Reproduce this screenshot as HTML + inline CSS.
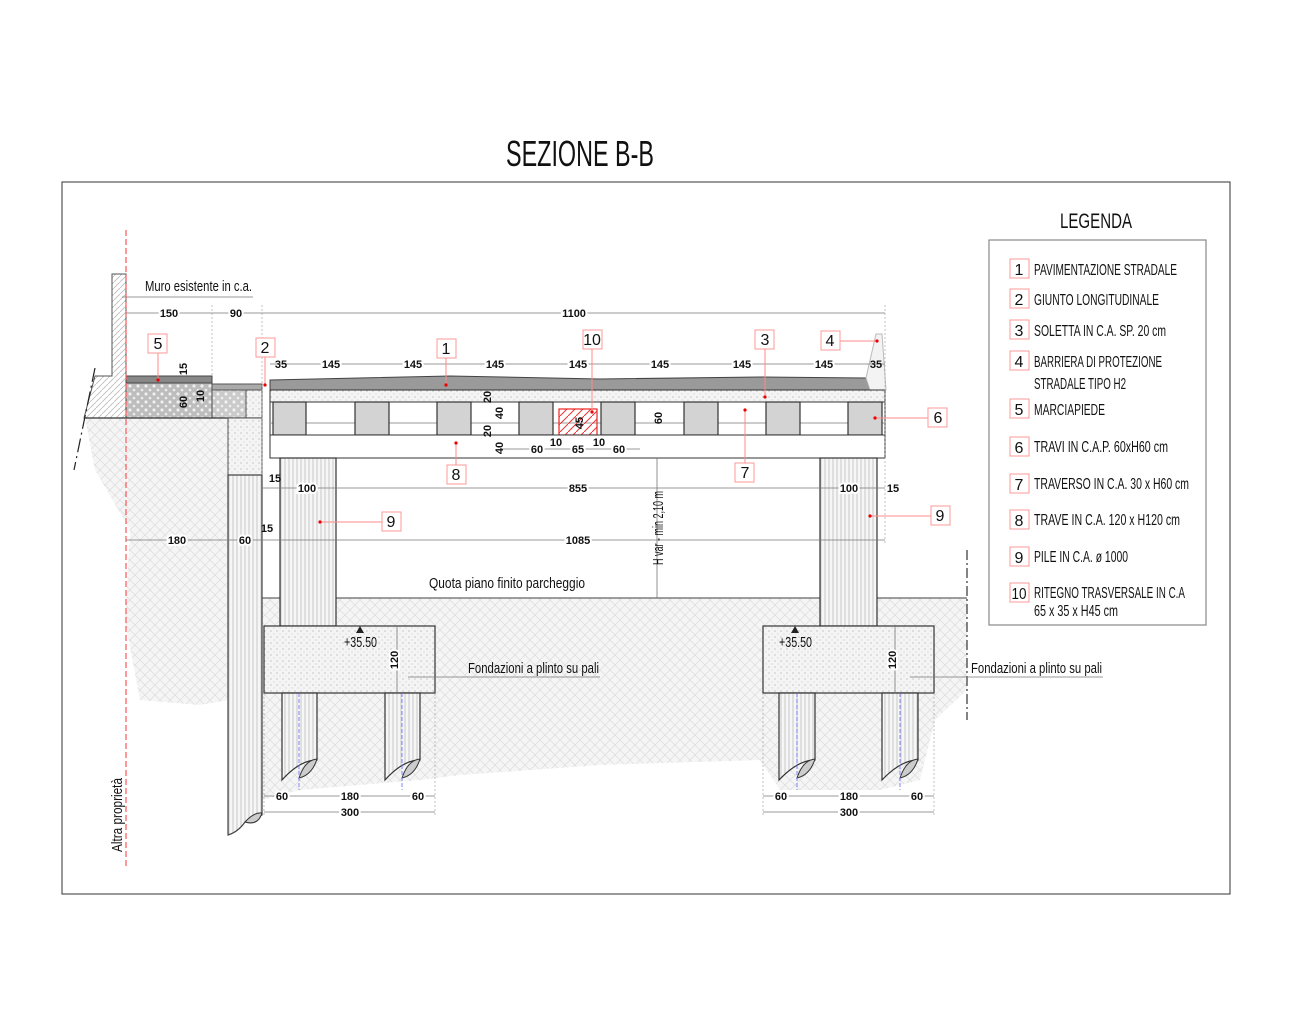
<!DOCTYPE html>
<html><head><meta charset="utf-8"><style>
html,body{margin:0;padding:0;background:#fff;}
svg{display:block;}
text{font-family:"Liberation Sans Narrow","Liberation Sans",sans-serif;fill:#111;}
.d{font-size:11px;font-weight:bold;}
.lg{font-size:16px;}
</style></head><body>
<svg width="1290" height="1024" viewBox="0 0 1290 1024" xmlns="http://www.w3.org/2000/svg">
<defs>
<pattern id="gr" width="10" height="10" patternUnits="userSpaceOnUse">
<rect width="10" height="10" fill="#f5f5f5"/>
<path d="M0 0L10 10M10 0L0 10" stroke="#dcdcdc" stroke-width="0.7"/>
</pattern>
<pattern id="dot" width="6" height="6" patternUnits="userSpaceOnUse">
<rect width="6" height="6" fill="#f4f4f4"/>
<circle cx="1" cy="1" r="0.6" fill="#aaa"/><circle cx="4" cy="4" r="0.5" fill="#bbb"/>
</pattern>
<pattern id="cob" width="8" height="8" patternUnits="userSpaceOnUse">
<rect width="8" height="8" fill="#bdbdbd"/>
<circle cx="2" cy="2" r="1.6" fill="#eee"/><circle cx="6" cy="6" r="1.3" fill="#eee"/>
</pattern>
<pattern id="vl" width="4" height="4" patternUnits="userSpaceOnUse">
<rect width="4" height="4" fill="#f6f6f6"/><path d="M1 0V4" stroke="#bdbdbd" stroke-width="0.8"/>
</pattern>
<pattern id="hat" width="6" height="6" patternUnits="userSpaceOnUse">
<rect width="6" height="6" fill="#fff"/><path d="M0 6L6 0" stroke="#bbb" stroke-width="0.8"/>
</pattern>
<pattern id="red" width="8" height="8" patternUnits="userSpaceOnUse">
<path d="M0 8L8 0" stroke="#e33" stroke-width="1"/>
</pattern>
</defs>

<text x="580" y="166" font-size="36" text-anchor="middle" textLength="148" lengthAdjust="spacingAndGlyphs">SEZIONE B-B</text>
<rect x="62" y="182" width="1168" height="712" fill="none" stroke="#333" stroke-width="1"/>

<path d="M85 418 L228 418 L228 700 L200 705 L140 700 L125 620 L130 530 L95 470 Z" fill="url(#gr)"/>
<path d="M262 598 L967 598 L967 690 L935 720 L920 780 L880 790 L820 790 L780 790 L760 760 L600 765 L460 775 L420 780 L300 790 L262 800 Z" fill="url(#gr)"/>
<line x1="262" y1="598" x2="967" y2="598" stroke="#666" stroke-width="1.2"/>

<path d="M112 274 L126 274 L126 418 L84 418 L95 376 L112 376 Z" fill="url(#hat)" stroke="#555"/>
<line x1="95" y1="368" x2="74" y2="470" stroke="#222" stroke-width="1.2" stroke-dasharray="14 4 2 4"/>
<rect x="126" y="383" width="86" height="35" fill="url(#cob)" stroke="#444"/>
<rect x="126" y="376" width="86" height="7" fill="#888" stroke="#444"/>
<rect x="212" y="390" width="34" height="28" fill="url(#cob)" opacity="0.8" stroke="#555"/>
<rect x="212" y="384" width="50" height="6" fill="#aaa" stroke="#555"/>
<rect x="246" y="390" width="16" height="28" fill="url(#dot)" stroke="#555"/>
<line x1="84" y1="418" x2="262" y2="418" stroke="#333" stroke-width="1.2"/>
<rect x="228" y="418" width="34" height="57" fill="url(#dot)" stroke="#555"/>
<path d="M228 475 L262 475 L262 815 Q252 820 245 822 Q238 832 228 835 Z" fill="url(#vl)" stroke="#444" stroke-width="1.2"/>
<path d="M245 822 Q254 812 262 813 Q258 826 245 822Z" fill="#ccc" stroke="#333"/>

<line x1="126" y1="230" x2="126" y2="866" stroke="#f55" stroke-width="1.2" stroke-dasharray="6 3"/>
<text transform="translate(122,852) rotate(-90)" font-size="15" textLength="74" lengthAdjust="spacingAndGlyphs">Altra proprietà</text>

<path d="M270 390 L270 380 L450 376 L600 379 L760 377 L866 378 L870 390 Z" fill="#9a9a9a" stroke="#444"/>
<path d="M870 390 L866 378 L876 334 L882 334 L886 390 Z" fill="#f3f3f3" stroke="#bbb"/>
<rect x="270" y="390" width="615" height="12" fill="url(#dot)" stroke="#333"/>
<rect x="270" y="402" width="615" height="33" fill="#fff" stroke="#333"/>
<line x1="270" y1="423" x2="885" y2="423" stroke="#999"/>
<g fill="#d3d3d3" stroke="#333" stroke-width="1.2">
<rect x="273" y="402" width="33" height="33"/><rect x="355" y="402" width="34" height="33"/>
<rect x="437" y="402" width="34" height="33"/><rect x="519" y="402" width="34" height="33"/>
<rect x="601" y="402" width="34" height="33"/><rect x="684" y="402" width="34" height="33"/>
<rect x="766" y="402" width="34" height="33"/><rect x="848" y="402" width="34" height="33"/>
</g>
<rect x="559" y="409" width="38" height="26" fill="url(#red)" stroke="#e22" stroke-width="1.2"/>
<rect x="270" y="435" width="615" height="23" fill="#fff" stroke="#333"/>

<rect x="280" y="458" width="56" height="168" fill="url(#vl)" stroke="#333" stroke-width="1.2"/>
<rect x="820" y="458" width="57" height="168" fill="url(#vl)" stroke="#333" stroke-width="1.2"/>

<rect x="264" y="626" width="171" height="67" fill="url(#dot)" stroke="#333" stroke-width="1.2"/>
<rect x="763" y="626" width="171" height="67" fill="url(#dot)" stroke="#333" stroke-width="1.2"/>
<g stroke="#333" stroke-width="1.2" fill="url(#vl)">
<path d="M282 693 L317 693 L317 760 Q300 760 282 780 Z"/>
<path d="M385 693 L420 693 L420 760 Q403 760 385 780 Z"/>
<path d="M779 693 L815 693 L815 760 Q798 760 779 780 Z"/>
<path d="M882 693 L918 693 L918 760 Q901 760 882 780 Z"/>
</g>
<g fill="#ccc" stroke="#333">
<path d="M299 778 Q305 760 317 759 Q312 775 299 778Z"/><path d="M402 778 Q408 760 420 759 Q415 775 402 778Z"/>
<path d="M797 778 Q803 760 815 759 Q810 775 797 778Z"/><path d="M900 778 Q906 760 918 759 Q913 775 900 778Z"/>
</g>
<g stroke="#66f" stroke-dasharray="4 2" stroke-width="0.8">
<line x1="299" y1="693" x2="299" y2="790"/><line x1="402" y1="693" x2="402" y2="790"/>
<line x1="797" y1="693" x2="797" y2="790"/><line x1="900" y1="693" x2="900" y2="790"/>
</g>
<line x1="967" y1="550" x2="967" y2="720" stroke="#333" stroke-width="1.2" stroke-dasharray="10 3 2 3"/>

<g stroke="#777" stroke-width="0.8" fill="none">
<line x1="126" y1="313" x2="885" y2="313"/>
<line x1="270" y1="364" x2="885" y2="364"/>
<line x1="262" y1="488" x2="885" y2="488"/>
<line x1="126" y1="540" x2="885" y2="540"/>
<line x1="264" y1="796" x2="435" y2="796"/><line x1="264" y1="812" x2="435" y2="812"/>
<line x1="763" y1="796" x2="934" y2="796"/><line x1="763" y1="812" x2="934" y2="812"/>
<line x1="657" y1="458" x2="657" y2="598"/>
<line x1="397" y1="626" x2="397" y2="693"/><line x1="895" y1="626" x2="895" y2="693"/>
<line x1="122" y1="297" x2="253" y2="297"/>
<line x1="408" y1="677" x2="600" y2="677"/><line x1="910" y1="677" x2="1103" y2="677"/>
<line x1="500" y1="449" x2="640" y2="449"/>
</g>
<g stroke="#999" stroke-width="0.6" stroke-dasharray="2 2">
<line x1="262" y1="305" x2="262" y2="475"/><line x1="212" y1="305" x2="212" y2="376"/>
<line x1="885" y1="305" x2="885" y2="545"/><line x1="264" y1="693" x2="264" y2="815"/>
<line x1="435" y1="693" x2="435" y2="815"/><line x1="763" y1="693" x2="763" y2="815"/>
<line x1="934" y1="693" x2="934" y2="815"/>
</g>

<g class="d" text-anchor="middle">
<text x="169" y="317" style="paint-order:stroke" stroke="#fff" stroke-width="4">150</text>
<text x="236" y="317" stroke="#fff" stroke-width="4" style="paint-order:stroke">90</text>
<text x="574" y="317" stroke="#fff" stroke-width="4" style="paint-order:stroke">1100</text>
<text x="281" y="368">35</text><text x="331" y="368" stroke="#fff" stroke-width="4" style="paint-order:stroke">145</text>
<text x="413" y="368" stroke="#fff" stroke-width="4" style="paint-order:stroke">145</text><text x="495" y="368" stroke="#fff" stroke-width="4" style="paint-order:stroke">145</text>
<text x="578" y="368" stroke="#fff" stroke-width="4" style="paint-order:stroke">145</text><text x="660" y="368" stroke="#fff" stroke-width="4" style="paint-order:stroke">145</text>
<text x="742" y="368" stroke="#fff" stroke-width="4" style="paint-order:stroke">145</text><text x="824" y="368" stroke="#fff" stroke-width="4" style="paint-order:stroke">145</text>
<text x="876" y="368">35</text>
<text x="275" y="482">15</text><text x="307" y="492" stroke="#fff" stroke-width="4" style="paint-order:stroke">100</text>
<text x="578" y="492" stroke="#fff" stroke-width="4" style="paint-order:stroke">855</text>
<text x="849" y="492" stroke="#fff" stroke-width="4" style="paint-order:stroke">100</text><text x="893" y="492">15</text>
<text x="177" y="544" stroke="#fff" stroke-width="4" style="paint-order:stroke">180</text><text x="245" y="544" stroke="#fff" stroke-width="4" style="paint-order:stroke">60</text>
<text x="267" y="532">15</text><text x="578" y="544" stroke="#fff" stroke-width="4" style="paint-order:stroke">1085</text>
<text x="537" y="453" stroke="#fff" stroke-width="4" style="paint-order:stroke">60</text><text x="556" y="446">10</text>
<text x="578" y="453" stroke="#fff" stroke-width="4" style="paint-order:stroke">65</text><text x="599" y="446">10</text>
<text x="619" y="453" stroke="#fff" stroke-width="4" style="paint-order:stroke">60</text>
<text x="282" y="800" stroke="#fff" stroke-width="4" style="paint-order:stroke">60</text><text x="350" y="800" stroke="#fff" stroke-width="4" style="paint-order:stroke">180</text>
<text x="418" y="800" stroke="#fff" stroke-width="4" style="paint-order:stroke">60</text><text x="350" y="816" stroke="#fff" stroke-width="4" style="paint-order:stroke">300</text>
<text x="781" y="800" stroke="#fff" stroke-width="4" style="paint-order:stroke">60</text><text x="849" y="800" stroke="#fff" stroke-width="4" style="paint-order:stroke">180</text>
<text x="917" y="800" stroke="#fff" stroke-width="4" style="paint-order:stroke">60</text><text x="849" y="816" stroke="#fff" stroke-width="4" style="paint-order:stroke">300</text>
<text transform="translate(398,660) rotate(-90)" stroke="#fff" stroke-width="4" style="paint-order:stroke">120</text>
<text transform="translate(896,660) rotate(-90)" stroke="#fff" stroke-width="4" style="paint-order:stroke">120</text>
<text transform="translate(187,369) rotate(-90)">15</text><text transform="translate(187,402) rotate(-90)">60</text>
<text transform="translate(204,396) rotate(-90)">10</text>
<text transform="translate(491,397) rotate(-90)">20</text><text transform="translate(503,413) rotate(-90)">40</text>
<text transform="translate(491,431) rotate(-90)">20</text><text transform="translate(503,448) rotate(-90)">40</text>
<text transform="translate(583,423) rotate(-90)">45</text><text transform="translate(662,418) rotate(-90)">60</text>
</g>
<text transform="translate(663,565) rotate(-90)" font-size="15" textLength="74" lengthAdjust="spacingAndGlyphs">H var - min 2,10 m</text>

<text x="145" y="291" font-size="15" textLength="107" lengthAdjust="spacingAndGlyphs">Muro esistente in c.a.</text>
<text x="429" y="588" font-size="15" textLength="156" lengthAdjust="spacingAndGlyphs">Quota piano finito parcheggio</text>
<text x="468" y="673" font-size="15" textLength="131" lengthAdjust="spacingAndGlyphs">Fondazioni a plinto su pali</text>
<text x="971" y="673" font-size="15" textLength="131" lengthAdjust="spacingAndGlyphs">Fondazioni a plinto su pali</text>
<path d="M356 633 L360 626 L364 633Z" fill="#222"/><text x="344" y="647" font-size="15" textLength="33" lengthAdjust="spacingAndGlyphs">+35.50</text>
<path d="M791 633 L795 626 L799 633Z" fill="#222"/><text x="779" y="647" font-size="15" textLength="33" lengthAdjust="spacingAndGlyphs">+35.50</text>

<g stroke="#f88" stroke-width="1" fill="none">
<line x1="158" y1="352" x2="158" y2="380"/><line x1="265" y1="356" x2="265" y2="384"/>
<line x1="446" y1="357" x2="446" y2="385"/><line x1="592" y1="349" x2="592" y2="412"/>
<line x1="765" y1="349" x2="765" y2="397"/><line x1="840" y1="341" x2="877" y2="341"/>
<line x1="875" y1="418" x2="928" y2="418"/><line x1="745" y1="410" x2="745" y2="464"/>
<line x1="456" y1="443" x2="456" y2="465"/><line x1="320" y1="522" x2="382" y2="522"/>
<line x1="870" y1="516" x2="931" y2="516"/>
</g>
<g fill="#e00">
<circle cx="158" cy="380" r="1.6"/><circle cx="265" cy="385" r="1.6"/><circle cx="446" cy="385" r="1.6"/>
<circle cx="592" cy="412" r="1.6"/><circle cx="765" cy="397" r="1.6"/><circle cx="877" cy="341" r="1.6"/>
<circle cx="875" cy="418" r="1.6"/><circle cx="745" cy="410" r="1.6"/><circle cx="456" cy="443" r="1.6"/>
<circle cx="320" cy="522" r="1.6"/><circle cx="870" cy="516" r="1.6"/>
</g>
<g fill="#fff" stroke="#f99" stroke-width="1">
<rect x="148" y="334" width="19" height="19"/><rect x="256" y="338" width="19" height="19"/>
<rect x="437" y="339" width="19" height="19"/><rect x="583" y="330" width="19" height="19"/>
<rect x="755" y="330" width="19" height="19"/><rect x="821" y="331" width="19" height="19"/>
<rect x="928" y="408" width="19" height="19"/><rect x="735" y="463" width="19" height="19"/>
<rect x="447" y="465" width="19" height="19"/><rect x="382" y="512" width="19" height="19"/>
<rect x="931" y="506" width="19" height="19"/>
</g>
<g font-size="16" text-anchor="middle">
<text x="158" y="349">5</text><text x="265" y="353">2</text><text x="446" y="354">1</text>
<text x="592" y="345">10</text><text x="765" y="345">3</text><text x="830" y="346">4</text>
<text x="938" y="423">6</text><text x="745" y="478">7</text><text x="456" y="480">8</text>
<text x="391" y="527">9</text><text x="940" y="521">9</text>
</g>

<text x="1096" y="228" font-size="21" text-anchor="middle" textLength="72" lengthAdjust="spacingAndGlyphs">LEGENDA</text>
<rect x="989" y="240" width="217" height="385" fill="#fff" stroke="#888" stroke-width="1.2"/>
<g fill="#fff" stroke="#f99">
<rect x="1010" y="259" width="19" height="19"/><rect x="1010" y="289" width="19" height="19"/>
<rect x="1010" y="320" width="19" height="19"/><rect x="1010" y="351" width="19" height="19"/>
<rect x="1010" y="399" width="19" height="19"/><rect x="1010" y="437" width="19" height="19"/>
<rect x="1010" y="474" width="19" height="19"/><rect x="1010" y="510" width="19" height="19"/>
<rect x="1010" y="547" width="19" height="19"/><rect x="1010" y="583" width="19" height="19"/>
</g>
<g class="lg" text-anchor="middle">
<text x="1019" y="275">1</text><text x="1019" y="305">2</text><text x="1019" y="336">3</text>
<text x="1019" y="367">4</text><text x="1019" y="415">5</text><text x="1019" y="453">6</text>
<text x="1019" y="490">7</text><text x="1019" y="526">8</text><text x="1019" y="563">9</text>
<text x="1019" y="599" textLength="15" lengthAdjust="spacingAndGlyphs">10</text>
</g>
<g class="lg">
<text x="1034" y="275" textLength="143" lengthAdjust="spacingAndGlyphs">PAVIMENTAZIONE STRADALE</text>
<text x="1034" y="305" textLength="125" lengthAdjust="spacingAndGlyphs">GIUNTO LONGITUDINALE</text>
<text x="1034" y="336" textLength="132" lengthAdjust="spacingAndGlyphs">SOLETTA IN C.A. SP. 20 cm</text>
<text x="1034" y="367" textLength="128" lengthAdjust="spacingAndGlyphs">BARRIERA DI PROTEZIONE</text>
<text x="1034" y="389" textLength="92" lengthAdjust="spacingAndGlyphs">STRADALE TIPO H2</text>
<text x="1034" y="415" textLength="71" lengthAdjust="spacingAndGlyphs">MARCIAPIEDE</text>
<text x="1034" y="452" textLength="134" lengthAdjust="spacingAndGlyphs">TRAVI IN C.A.P. 60xH60 cm</text>
<text x="1034" y="489" textLength="155" lengthAdjust="spacingAndGlyphs">TRAVERSO IN C.A. 30 x H60 cm</text>
<text x="1034" y="525" textLength="146" lengthAdjust="spacingAndGlyphs">TRAVE IN C.A. 120 x H120 cm</text>
<text x="1034" y="562" textLength="94" lengthAdjust="spacingAndGlyphs">PILE IN C.A. ø 1000</text>
<text x="1034" y="598" textLength="151" lengthAdjust="spacingAndGlyphs">RITEGNO TRASVERSALE IN C.A</text>
<text x="1034" y="616" textLength="84" lengthAdjust="spacingAndGlyphs">65 x 35 x H45 cm</text>
</g>
</svg>
</body></html>
